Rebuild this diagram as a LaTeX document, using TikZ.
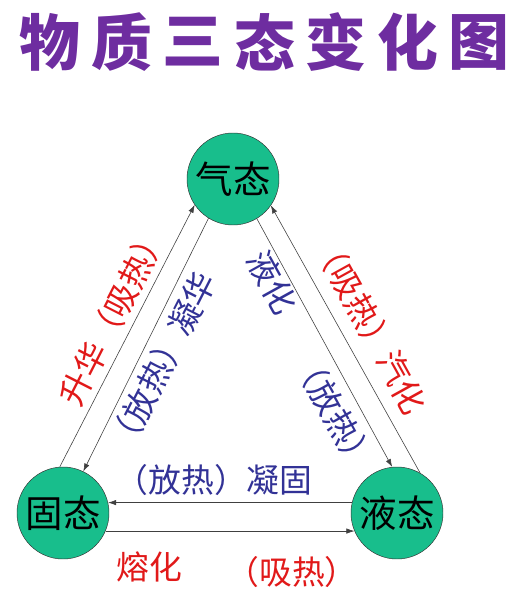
\documentclass[tikz,border=0pt]{standalone}
\usepackage{fontspec}
\usepackage{tikz}
\usetikzlibrary{arrows.meta}
\newfontfamily\cjk{Noto Sans CJK SC}
\definecolor{statefill}{RGB}{24,190,140}
\definecolor{heatred}{RGB}{225,25,25}
\definecolor{coolblue}{RGB}{50,50,150}
\definecolor{titlepurple}{RGB}{110,45,160}
\newcommand{\phaselabel}[5]{
    \node[labeltext, text=#2, rotate=#3] (#1) at (#4) {#5};
}

\begin{document}
\begin{tikzpicture}[x=0.03cm, y=-0.03cm,
        state/.style={circle, draw=black!80, fill=statefill, minimum size=2.76cm, inner sep=0pt, font=\cjk\fontsize{32}{32}\selectfont},
        change/.style={draw=black!75, line width=0.5pt, -{Latex[length=2.4mm,width=1.6mm]}},
        labeltext/.style={inner sep=0pt, font=\cjk\fontsize{28}{28}\selectfont}]
        \useasboundingbox (0,0) rectangle (524,600);
        \foreach \c [count=\i] in {物,质,三,态,变,化,图}
            \node[text=titlepurple, font=\cjk\bfseries\fontsize{52}{52}\selectfont] (title\i) at ({50+71.5*(\i-1)},42) {\c};
        \node[state] (gas) at (233,179) {气态};
        \node[state] (solid) at (63,513) {固态};
        \node[state] (liquid) at (397,513) {液态};
        \draw[change] (solid.94) -- (gas.214);
        \draw[change] (gas.238) -- (solid.64);
        \draw[change] (liquid.60) -- (gas.325);
        \draw[change] (gas.301) -- (liquid.96);
        \draw[change] (liquid.167) -- (solid.13);
        \draw[change] (solid.337) -- (liquid.203);
        \phaselabel{sublim}{heatred}{63}{113,315}{升华（吸热）}
        \phaselabel{desub}{coolblue}{63}{162,362}{（放热）凝华}
        \phaselabel{liquef}{coolblue}{-61}{272,282}{液化}
        \phaselabel{liquefheat}{coolblue}{-61}{334,412}{（放热）}
        \phaselabel{vapor}{heatred}{-61}{370,325}{（吸热）汽化}
        \phaselabel{freeze}{coolblue}{0}{214,480}{（放热）凝固}
        \phaselabel{melt}{heatred}{0}{149,567}{熔化}
        \phaselabel{meltheat}{heatred}{0}{292,572}{（吸热）}
    \end{tikzpicture}
\end{document}
